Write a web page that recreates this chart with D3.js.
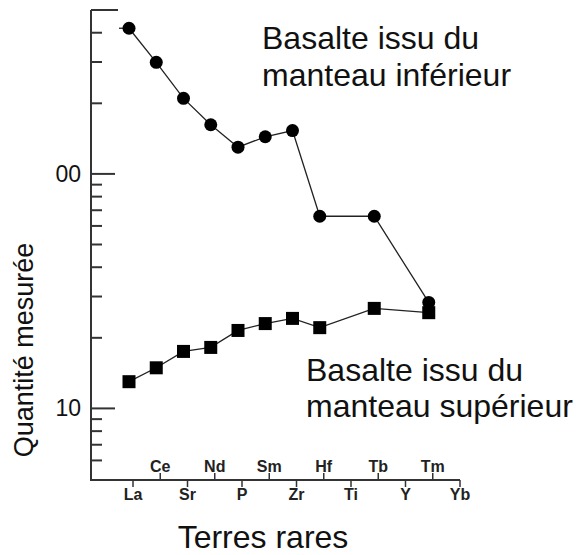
<!DOCTYPE html>
<html>
<head>
<meta charset="utf-8">
<script src="https://cdn.jsdelivr.net/npm/d3@7"></script>
<style>
  body { margin: 0; background: #fff; }
  svg text { font-family: "Liberation Sans", Arial, sans-serif; }
</style>
</head>
<body>
<svg id="chart" width="576" height="555"></svg>
<script>
// elements along the x axis
const elements = ["La", "Ce", "Sr", "Nd", "P", "Sm", "Zr", "Hf", "Ti", "Tb", "Y", "Tm", "Yb"];
// measured elements (same for both series)
const measured = ["La", "Ce", "Sr", "Nd", "P", "Sm", "Zr", "Hf", "Tb", "Tm"];
const inferieur = [418, 299, 210, 162, 130, 144, 153, 66, 66, 28.3];
const superieur = [13.0, 14.9, 17.5, 18.2, 21.5, 23.0, 24.2, 22.1, 26.7, 25.6];
const majorTicks = [10, 100, 500];
const majorLabels = ["10", "00", ""];
const minorTicks = [6, 7, 8, 9, 20, 30, 40, 50, 60, 70, 80, 90, 200, 300, 400];

const svg = d3.select("#chart");

const x = d3.scalePoint().domain(elements).range([133, 460]);
const y = d3.scaleLog().domain([5, 500]).range([479, 10]);

const axisColor = "#333";

// y axis
const gy = svg.append("g").attr("transform", "translate(91,0)");
gy.append("line").attr("y1", y(500)).attr("y2", y(5))
  .attr("stroke", axisColor).attr("stroke-width", 2);
gy.selectAll(".major").data(majorTicks).enter().append("line")
  .attr("x1", 0).attr("x2", d => d === 500 ? 27 : 24)
  .attr("y1", d => y(d)).attr("y2", d => y(d))
  .attr("stroke", axisColor).attr("stroke-width", 2);
gy.selectAll(".minor").data(minorTicks).enter().append("line")
  .attr("x1", 0).attr("x2", 11)
  .attr("y1", d => y(d)).attr("y2", d => y(d))
  .attr("stroke", axisColor).attr("stroke-width", 2);
gy.selectAll(".lbl").data(majorTicks).enter().append("text")
  .attr("x", -10).attr("y", d => y(d) + 8)
  .attr("text-anchor", "end").attr("font-size", 23).attr("fill", "#111")
  .text((d, i) => majorLabels[i]);

// x axis
const gx = svg.append("g").attr("transform", "translate(0,480)");
gx.append("line").attr("x1", 90).attr("x2", x("Yb"))
  .attr("stroke", axisColor).attr("stroke-width", 2);
gx.selectAll(".tick").data(elements).enter().append("line")
  .attr("x1", d => x(d)).attr("x2", d => x(d))
  .attr("y1", 0).attr("y2", (d, i) => i % 2 === 0 ? 7 : -7)
  .attr("stroke", axisColor).attr("stroke-width", 1.5);
gx.selectAll(".lbl").data(elements).enter().append("text")
  .attr("x", d => x(d))
  .attr("y", (d, i) => i % 2 === 0 ? 20 : -8)
  .attr("text-anchor", "middle").attr("font-size", 16).attr("font-weight", "bold")
  .attr("fill", "#222")
  .text(d => d);

// data series
const plot = svg.append("g").attr("transform", "translate(-4,0)");
const line = d3.line().x(d => x(d[0])).y(d => y(d[1]));

const inf = measured.map((m, i) => [m, inferieur[i]]);
const sup = measured.map((m, i) => [m, superieur[i]]);

plot.append("line").attr("x1", x("La") - 10).attr("x2", x("La"))
  .attr("y1", y(inferieur[0])).attr("y2", y(inferieur[0]))
  .attr("stroke", "#222").attr("stroke-width", 1.3);
plot.append("line").attr("x1", x("La") - 6).attr("x2", x("La"))
  .attr("y1", y(superieur[0])).attr("y2", y(superieur[0]))
  .attr("stroke", "#222").attr("stroke-width", 1.3);

plot.append("path").datum(inf).attr("d", line)
  .attr("fill", "none").attr("stroke", "#222").attr("stroke-width", 1.3);
plot.append("path").datum(sup).attr("d", line)
  .attr("fill", "none").attr("stroke", "#222").attr("stroke-width", 1.3);

plot.selectAll(".dot").data(inf).enter().append("circle")
  .attr("cx", d => x(d[0])).attr("cy", d => y(d[1])).attr("r", 6.5)
  .attr("fill", "#000");
plot.selectAll(".sq").data(sup).enter().append("rect")
  .attr("x", d => x(d[0]) - 6.5).attr("y", d => y(d[1]) - 6.5)
  .attr("width", 13).attr("height", 13)
  .attr("fill", "#000");

// annotations
function label(lines, x0, y0, dy) {
  const t = svg.append("text").attr("font-size", 32).attr("fill", "#111");
  lines.forEach((s, i) => t.append("tspan").attr("x", x0).attr("y", y0 + i * dy).text(s));
}
label(["Basalte issu du", "manteau inférieur"], 262, 49, 37);
label(["Basalte issu du", "manteau supérieur"], 306, 381, 36);

svg.append("text")
  .attr("transform", "translate(33,350) rotate(-90)")
  .attr("text-anchor", "middle").attr("font-size", 27).attr("fill", "#111")
  .text("Quantité mesurée");

svg.append("text")
  .attr("x", 263).attr("y", 548)
  .attr("text-anchor", "middle").attr("font-size", 32).attr("fill", "#111")
  .text("Terres rares");
</script>
</body>
</html>
